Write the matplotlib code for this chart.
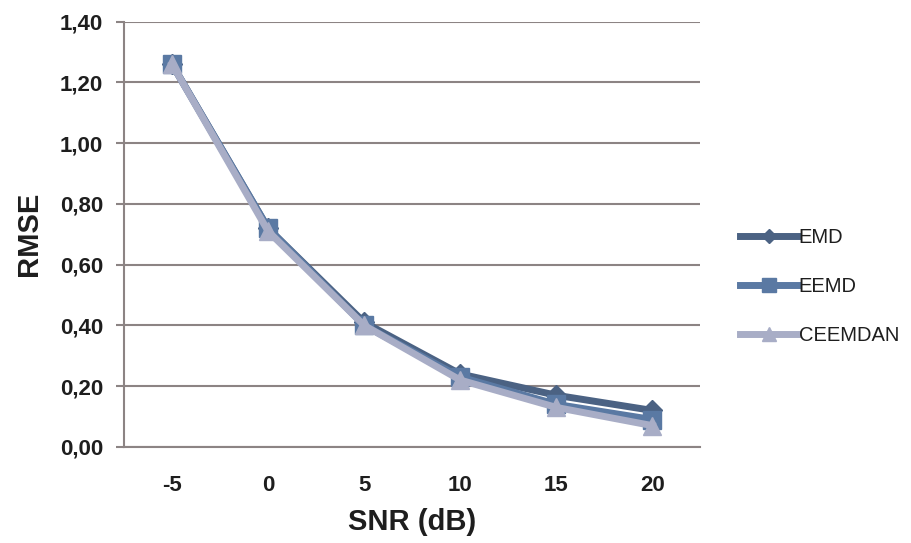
import matplotlib
matplotlib.use("Agg")
import matplotlib.pyplot as plt
from matplotlib.ticker import FuncFormatter

snr_labels = ["-5", "0", "5", "10", "15", "20"]
emd = [1.26, 0.72, 0.41, 0.24, 0.17, 0.12]
eemd = [1.26, 0.72, 0.40, 0.23, 0.14, 0.09]
ceemdan = [1.26, 0.71, 0.40, 0.22, 0.13, 0.07]

plt.rcParams["font.family"] = ["Liberation Sans", "DejaVu Sans"]

fig = plt.figure(figsize=(9.12, 5.43), dpi=100)
ax = fig.add_axes([0.136, 0.177, 0.632, 0.783])

x = list(range(len(snr_labels)))
grid_color = "#8c8484"
text_color = "#1e1e1e"

ax.plot(x, emd, color="#4b6283", lw=5, marker="D", ms=10, label="EMD", zorder=3)
ax.plot(x, eemd, color="#5a79a3", lw=5, marker="s", ms=13, label="EEMD", zorder=4)
ax.plot(x, ceemdan, color="#a8adc6", lw=5, marker="^", ms=13, label="CEEMDAN", zorder=5)

ax.set_xlim(-0.5, len(x) - 0.5)
ax.set_ylim(0, 1.4)
ax.set_yticks([i * 0.2 for i in range(8)])
ax.yaxis.set_major_formatter(FuncFormatter(lambda v, p: f"{v:.2f}".replace(".", ",")))
ax.set_xticks(x)
ax.set_xticklabels(snr_labels)

ax.yaxis.grid(True, color=grid_color, lw=1.5)
ax.set_axisbelow(True)
for s in ["top", "right"]:
    ax.spines[s].set_visible(False)
ax.spines["left"].set_color(grid_color)
ax.spines["left"].set_linewidth(1.5)
ax.spines["bottom"].set_color(grid_color)
ax.spines["bottom"].set_linewidth(1.5)

ax.tick_params(axis="y", length=6, width=1.5, color=grid_color, pad=9,
               labelsize=16, labelcolor=text_color)
ax.tick_params(axis="x", length=0, pad=20, labelsize=16, labelcolor=text_color)
for lbl in ax.get_xticklabels() + ax.get_yticklabels():
    lbl.set_fontweight("bold")

ax.set_xlabel("SNR (dB)", fontsize=21, fontweight="bold", color=text_color, labelpad=9)
ax.set_ylabel("RMSE", fontsize=21, fontweight="bold", color=text_color, labelpad=12)

leg = fig.legend(loc="center left", bbox_to_anchor=(0.792, 0.472), frameon=False,
                 fontsize=14.5, handlelength=2.8, labelspacing=1.5, handletextpad=0.1,
                 markerscale=0.75)
for t in leg.get_texts():
    t.set_color(text_color)

fig.savefig("out.png", dpi=100)
